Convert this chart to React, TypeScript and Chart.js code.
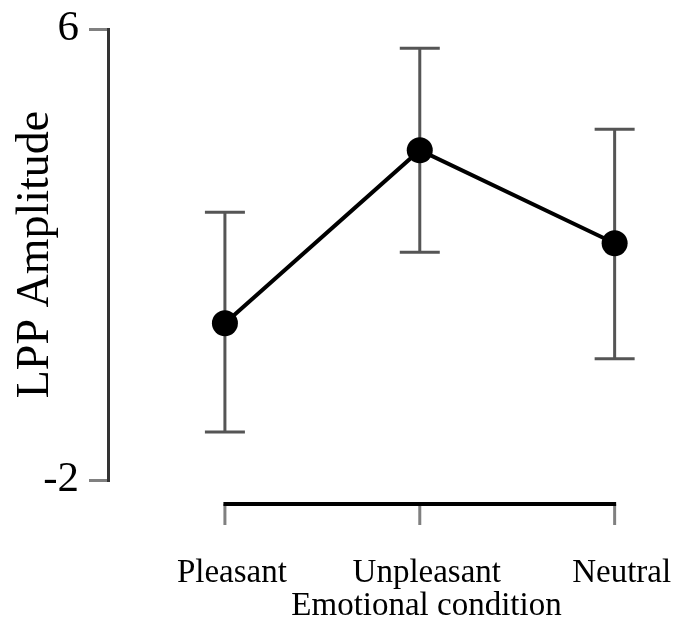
import React, { useEffect, useRef } from "react";
import { Chart, registerables } from "chart.js";

Chart.register(...registerables);

const categories = ["Pleasant", "Unpleasant", "Neutral"];
const means = [0.78, 3.85, 2.2];
const errLow = [-1.15, 2.04, 0.15];
const errHigh = [2.75, 5.66, 4.22];
const yTickValues = [-2, 6];

const FONT = "'Liberation Serif', 'Times New Roman', serif";

const errorBarPlugin = {
  id: "errorBars",
  beforeDatasetsDraw(chart: any) {
    const { ctx, scales } = chart;
    const x = scales.x;
    const y = scales.y;
    ctx.save();
    ctx.strokeStyle = "#555555";
    ctx.lineWidth = 3;
    categories.forEach((_, i) => {
      const px = x.getPixelForValue(i);
      const top = y.getPixelForValue(errHigh[i]);
      const bot = y.getPixelForValue(errLow[i]);
      ctx.beginPath();
      ctx.moveTo(px, top);
      ctx.lineTo(px, bot);
      ctx.moveTo(px - 20, top);
      ctx.lineTo(px + 20, top);
      ctx.moveTo(px - 20, bot);
      ctx.lineTo(px + 20, bot);
      ctx.stroke();
    });
    ctx.restore();
  },
};

const trimmedXAxisPlugin = {
  id: "trimmedXAxis",
  afterDraw(chart: any) {
    const { ctx, scales, chartArea } = chart;
    const x = scales.x;
    const ay = chartArea.bottom + 24;
    const pxs = x.ticks.map((t: any) => x.getPixelForValue(t.value));
    ctx.save();
    ctx.strokeStyle = "#808080";
    ctx.lineWidth = 3;
    pxs.forEach((px: number) => {
      ctx.beginPath();
      ctx.moveTo(px, ay);
      ctx.lineTo(px, ay + 21);
      ctx.stroke();
    });
    ctx.strokeStyle = "#000000";
    ctx.lineWidth = 4;
    ctx.beginPath();
    ctx.moveTo(pxs[0] - 1.5, ay);
    ctx.lineTo(pxs[pxs.length - 1] + 1.5, ay);
    ctx.stroke();
    ctx.restore();
  },
};

export default function App() {
  const ref = useRef<HTMLCanvasElement | null>(null);

  useEffect(() => {
    if (!ref.current) return;
    const chart = new Chart(ref.current, {
      type: "line",
      data: {
        datasets: [
          {
            data: means.map((m, i) => ({ x: i, y: m })),
            borderColor: "#000000",
            borderWidth: 4,
            pointRadius: 13,
            pointBackgroundColor: "#000000",
            pointBorderWidth: 0,
            pointHoverRadius: 13,
            clip: false as any,
          },
        ],
      },
      options: {
        animation: false,
        responsive: true,
        maintainAspectRatio: false,
        layout: { padding: { top: 21, right: 4, left: 0, bottom: 0 } },
        plugins: { legend: { display: false }, tooltip: { enabled: false } },
        scales: {
          x: {
            type: "linear",
            min: -0.6,
            max: 2.669,
            afterBuildTicks: (scale: any) => {
              scale.ticks = categories.map((_, i) => ({ value: i }));
            },
            afterFit: (scale: any) => {
              scale.height = 146;
              scale.paddingLeft = 0;
              scale.paddingRight = 0;
            },
            grid: { display: false, drawTicks: false },
            border: { display: false },
            ticks: {
              autoSkip: false,
              maxRotation: 0,
              padding: 74,
              labelOffset: 7,
              color: "#000000",
              font: { family: FONT, size: 33 },
              callback: (v: any) => categories[v as number] ?? "",
            },
            title: {
              display: true,
              text: "Emotional condition",
              color: "#000000",
              font: { family: FONT, size: 33 },
              padding: { top: 0, bottom: 0 },
            },
          },
          y: {
            type: "linear",
            min: -2,
            max: 6,
            afterBuildTicks: (scale: any) => {
              scale.ticks = yTickValues.map((v) => ({ value: v }));
            },
            afterFit: (scale: any) => {
              scale.width = 100;
              scale.paddingTop = 0;
              scale.paddingBottom = 0;
            },
            grid: {
              drawOnChartArea: false,
              drawTicks: true,
              tickLength: 19,
              color: "#808080",
              lineWidth: 3,
            },
            border: { display: true, color: "#333333", width: 3 },
            ticks: {
              padding: 10,
              color: "#000000",
              font: { family: FONT, size: 43 },
            },
            title: {
              display: true,
              text: "LPP Amplitude",
              color: "#000000",
              font: { family: FONT, size: 46 },
              padding: { top: 0, bottom: 0 },
            },
          },
        },
      },
      plugins: [errorBarPlugin, trimmedXAxisPlugin],
    });
    return () => chart.destroy();
  }, []);

  return (
    <div style={{ width: 673, height: 618, overflow: "hidden" }}>
      <div style={{ width: 750, height: 618, position: "relative" }}>
        <canvas ref={ref} />
      </div>
    </div>
  );
}
